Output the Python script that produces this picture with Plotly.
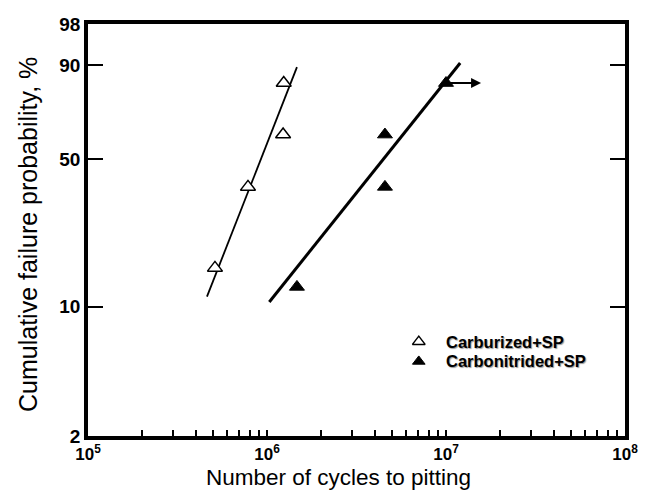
import numpy as np
import plotly.graph_objects as go

# ---- data ----
carb_cycles = [5.12e5, 7.83e5, 1.23e6, 1.24e6]
carb_prob = [15.9, 38.6, 61.4, 84.1]
cn_cycles = [1.47e6, 4.56e6, 4.56e6, 1.0e7]
cn_prob = [12.7, 38.6, 61.4, 84.1]

carb_fit_cycles = [4.62e5, 1.47e6]
carb_fit_prob = [11.3, 89.5]
cn_fit_cycles = [1.03e6, 1.20e7]
cn_fit_prob = [10.6, 90.7]

runout_from = 1.0e7
runout_to = 1.57e7
runout_prob = 84.1

series_names = ["Carburized+SP", "Carbonitrided+SP"]
x_title = "Number of cycles to pitting"
y_title = "Cumulative failure probability, %"

y_tick_vals = [2, 10, 50, 90, 98]
x_tick_vals = [1e5, 1e6, 1e7, 1e8]
x_tick_text = ["10<sup>5</sup>", "10<sup>6</sup>", "10<sup>7</sup>", "10<sup>8</sup>"]


def weib(p):
    p = np.asarray(p, dtype=float) / 100.0
    return np.log(-np.log(1.0 - p))


FONT = "Liberation Sans, Arial, sans-serif"
OPEN_MARK = dict(symbol="triangle-up", color="white", line=dict(color="black", width=1.5))
FILL_MARK = dict(symbol="triangle-up", color="black", line=dict(color="black", width=1))

# legend placement (paper fractions of the plot area)
LEG_SYM_X = 0.616
LEG_TXT_X = 0.663
LEG_Y = [0.229, 0.181]

fig = go.Figure()

fig.add_trace(go.Scatter(x=carb_fit_cycles, y=weib(carb_fit_prob), mode="lines",
                         line=dict(color="black", width=1.8), showlegend=False, hoverinfo="skip"))
fig.add_trace(go.Scatter(x=cn_fit_cycles, y=weib(cn_fit_prob), mode="lines",
                         line=dict(color="black", width=3), showlegend=False, hoverinfo="skip"))

fig.add_trace(go.Scatter(x=carb_cycles, y=weib(carb_prob), mode="markers", name=series_names[0],
                         marker=dict(size=13, **OPEN_MARK), showlegend=False))
fig.add_trace(go.Scatter(x=cn_cycles, y=weib(cn_prob), mode="markers", name=series_names[1],
                         marker=dict(size=13, **FILL_MARK), showlegend=False))

# legend keys on an overlay axis spanning the plot area
fig.add_trace(go.Scatter(x=[LEG_SYM_X], y=[LEG_Y[0]], xaxis="x2", yaxis="y2", mode="markers",
                         marker=dict(size=11, **OPEN_MARK), showlegend=False, hoverinfo="skip"))
fig.add_trace(go.Scatter(x=[LEG_SYM_X], y=[LEG_Y[1]], xaxis="x2", yaxis="y2", mode="markers",
                         marker=dict(size=11, **FILL_MARK), showlegend=False, hoverinfo="skip"))
for name, yy in zip(series_names, LEG_Y):
    fig.add_annotation(x=LEG_TXT_X, y=yy, xref="paper", yref="paper", text=name,
                       showarrow=False, xanchor="left", yanchor="middle",
                       font=dict(family=FONT, size=16.5, color="black", weight="bold",
                                 shadow="1px 1px 1px #999"))

# axis titles
fig.add_annotation(x=0.467, y=-0.1, xref="paper", yref="paper", text=x_title,
                   showarrow=False, xanchor="center", yanchor="middle",
                   font=dict(family=FONT, size=22.5, color="black"))
fig.add_annotation(x=-0.112, y=0.49, xref="paper", yref="paper", text=y_title,
                   showarrow=False, xanchor="center", yanchor="middle", textangle=-90,
                   font=dict(family=FONT, size=25, color="black"))

fig.add_annotation(x=np.log10(runout_to), y=float(weib([runout_prob])[0]),
                   ax=np.log10(runout_from), ay=float(weib([runout_prob])[0]),
                   xref="x", yref="y", axref="x", ayref="y",
                   showarrow=True, arrowhead=2, arrowsize=1.0, arrowwidth=2,
                   arrowcolor="black", standoff=0, startstandoff=0, text="")

minor_vals = [m * d for d in (1e5, 1e6, 1e7) for m in range(2, 10)]

fig.update_xaxes(type="log", range=[5, 8],
                 tickvals=x_tick_vals, ticktext=x_tick_text,
                 ticks="inside", ticklen=6, tickwidth=2, tickcolor="black",
                 minor=dict(tickvals=minor_vals, ticks="inside", ticklen=6, tickwidth=2,
                            tickcolor="black", showgrid=False),
                 showline=True, linewidth=3.5, linecolor="black", mirror=True,
                 showgrid=False, zeroline=False,
                 tickfont=dict(family=FONT, size=17, color="black", weight="bold"))

fig.update_yaxes(range=[float(weib([2])[0]), float(weib([98])[0])],
                 tickvals=weib(y_tick_vals), ticktext=[str(v) for v in y_tick_vals],
                 ticks="inside", ticklen=15, tickwidth=2, tickcolor="black",
                 showline=True, linewidth=3.5, linecolor="black", mirror="ticks",
                 showgrid=False, zeroline=False,
                 tickfont=dict(family=FONT, size=19, color="black", weight="bold"))

fig.update_layout(
    width=651, height=495,
    margin=dict(l=88, r=26, t=24, b=59),
    paper_bgcolor="white", plot_bgcolor="white",
    showlegend=False,
    xaxis2=dict(overlaying="x", range=[0, 1], visible=False, fixedrange=True),
    yaxis2=dict(overlaying="y", range=[0, 1], visible=False, fixedrange=True),
)

fig.write_html("out.html", post_script="document.body.style.margin='0';",
               config={"displayModeBar": False})
